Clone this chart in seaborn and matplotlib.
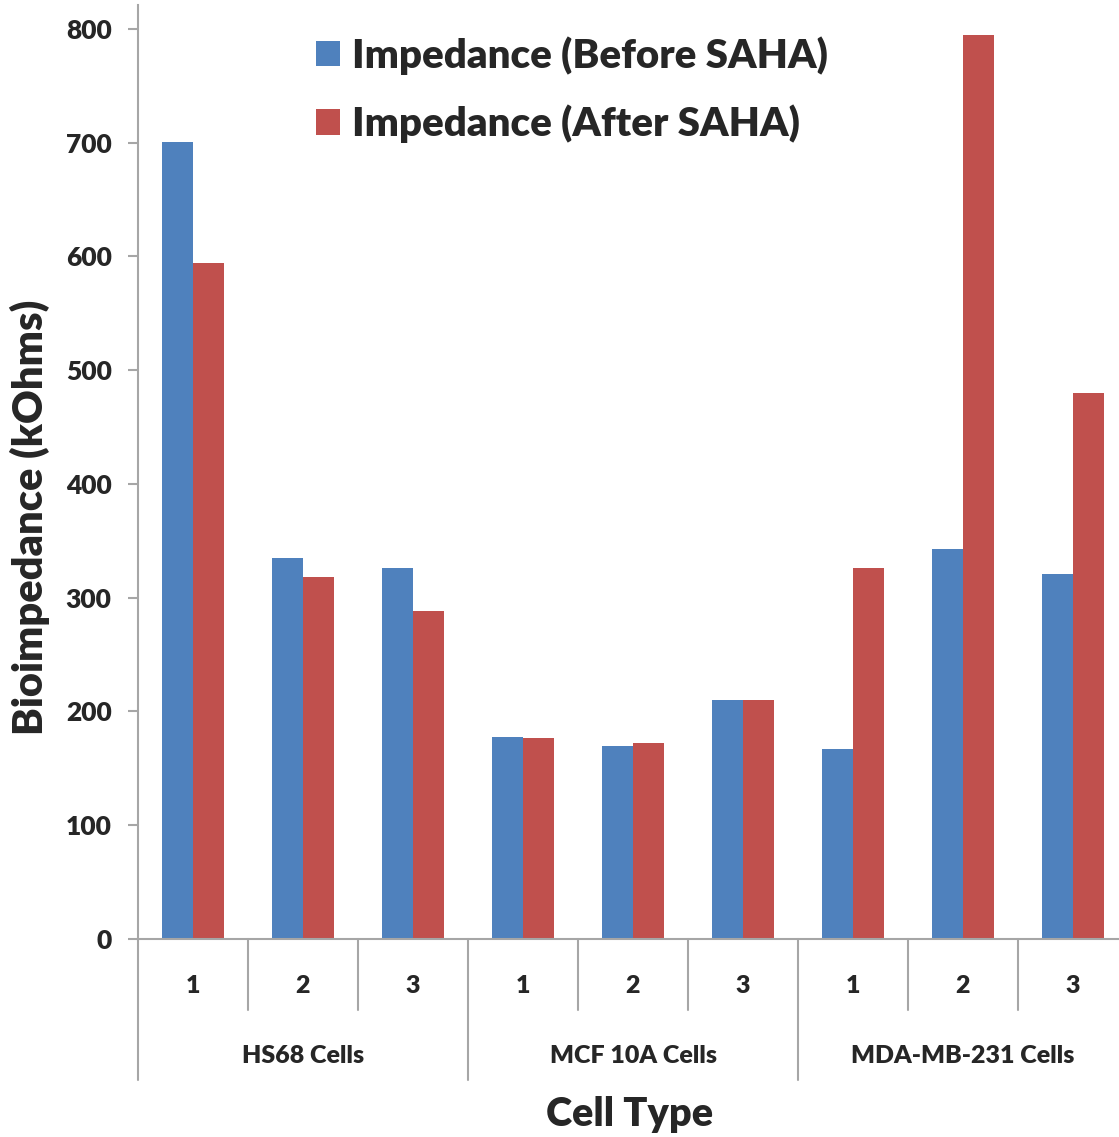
import matplotlib
matplotlib.use("Agg")
import matplotlib.pyplot as plt
import seaborn as sns
import pandas as pd

# Cell lines and replicate labels
groups = ["HS68 Cells", "MCF 10A Cells", "MDA-MB-231 Cells"]
replicates = ["1", "2", "3"]

# Bioimpedance (kOhms) per replicate, in group order
before_saha = [701, 335, 326, 178, 170, 210, 167, 343, 321]
after_saha = [594, 318, 288, 177, 172, 210, 326, 795, 480]

series_names = ["Impedance (Before SAHA)", "Impedance (After SAHA)"]
colors = ["#4F81BD", "#C0504D"]

y_ticks = [0, 100, 200, 300, 400, 500, 600, 700, 800]

keys = [f"{g} {r}" for g in groups for r in replicates]
rows = []
for name, vals in zip(series_names, [before_saha, after_saha]):
    for k, v in zip(keys, vals):
        rows.append({"key": k, "series": name, "value": v})
df = pd.DataFrame(rows)

sns.set_style("white")
plt.rcParams["font.family"] = ["Lato", "DejaVu Sans"]
plt.rcParams["font.weight"] = "bold"

W, H = 1119, 1137
fig = plt.figure(figsize=(W / 100, H / 100), dpi=100)
ax = fig.add_axes([138 / W, 198 / H, 990 / W, 934 / H])

sns.barplot(data=df, x="key", y="value", hue="series", order=keys,
            hue_order=series_names, palette=colors, width=0.564,
            saturation=1, edgecolor="none", linewidth=0, ax=ax)

ax.set_xlim(-0.5, len(keys) - 0.5)
ax.set_ylim(0, 821)
ax.set_yticks(y_ticks)
ax.set_yticklabels([str(t) for t in y_ticks], fontsize=19, fontweight="heavy")

grey = "#A6A6A6"
for side in ["top", "right"]:
    ax.spines[side].set_visible(False)
for side in ["left", "bottom"]:
    ax.spines[side].set_color(grey)
    ax.spines[side].set_linewidth(1.5)
ax.tick_params(axis="y", direction="out", length=7, width=1.5, color=grey,
               pad=12, left=True)

# Replicate labels on the first tier of the category axis
ax.set_xticks(range(len(keys)))
ax.set_xticklabels(replicates * len(groups), fontsize=18, fontweight="heavy")
ax.tick_params(axis="x", length=0, pad=26)

# Separator lines of the two-level category axis
xt = ax.get_xaxis_transform()
for i in range(len(keys) + 1):
    b = i - 0.5
    low = -0.151 if i % 3 == 0 else -0.076
    ax.plot([b, b], [0, low], color=grey, lw=1.5, transform=xt, clip_on=False)

# Group labels on the second tier
for gi, g in enumerate(groups):
    ax.text(gi * 3 + 1, -0.125, g, transform=xt, ha="center", va="center",
            fontsize=18, fontweight="heavy")

ax.set_xlabel("Cell Type", fontsize=28.5, fontweight="heavy", va="center")
ax.xaxis.set_label_coords(0.497, -0.188)
ax.set_ylabel("Bioimpedance (kOhms)", fontsize=30, fontweight="heavy", va="center")
ax.yaxis.set_label_coords(-0.109, 0.452)

leg = ax.legend(loc="upper left", bbox_to_anchor=(316 / W, 1 - 36 / H),
                bbox_transform=fig.transFigure, frameon=False,
                prop={"size": 29, "weight": "heavy"},
                handlelength=0.6, handleheight=0.6, handletextpad=0.3,
                labelspacing=0.75, borderpad=0, borderaxespad=0)

fig.savefig("out.png", dpi=100)
